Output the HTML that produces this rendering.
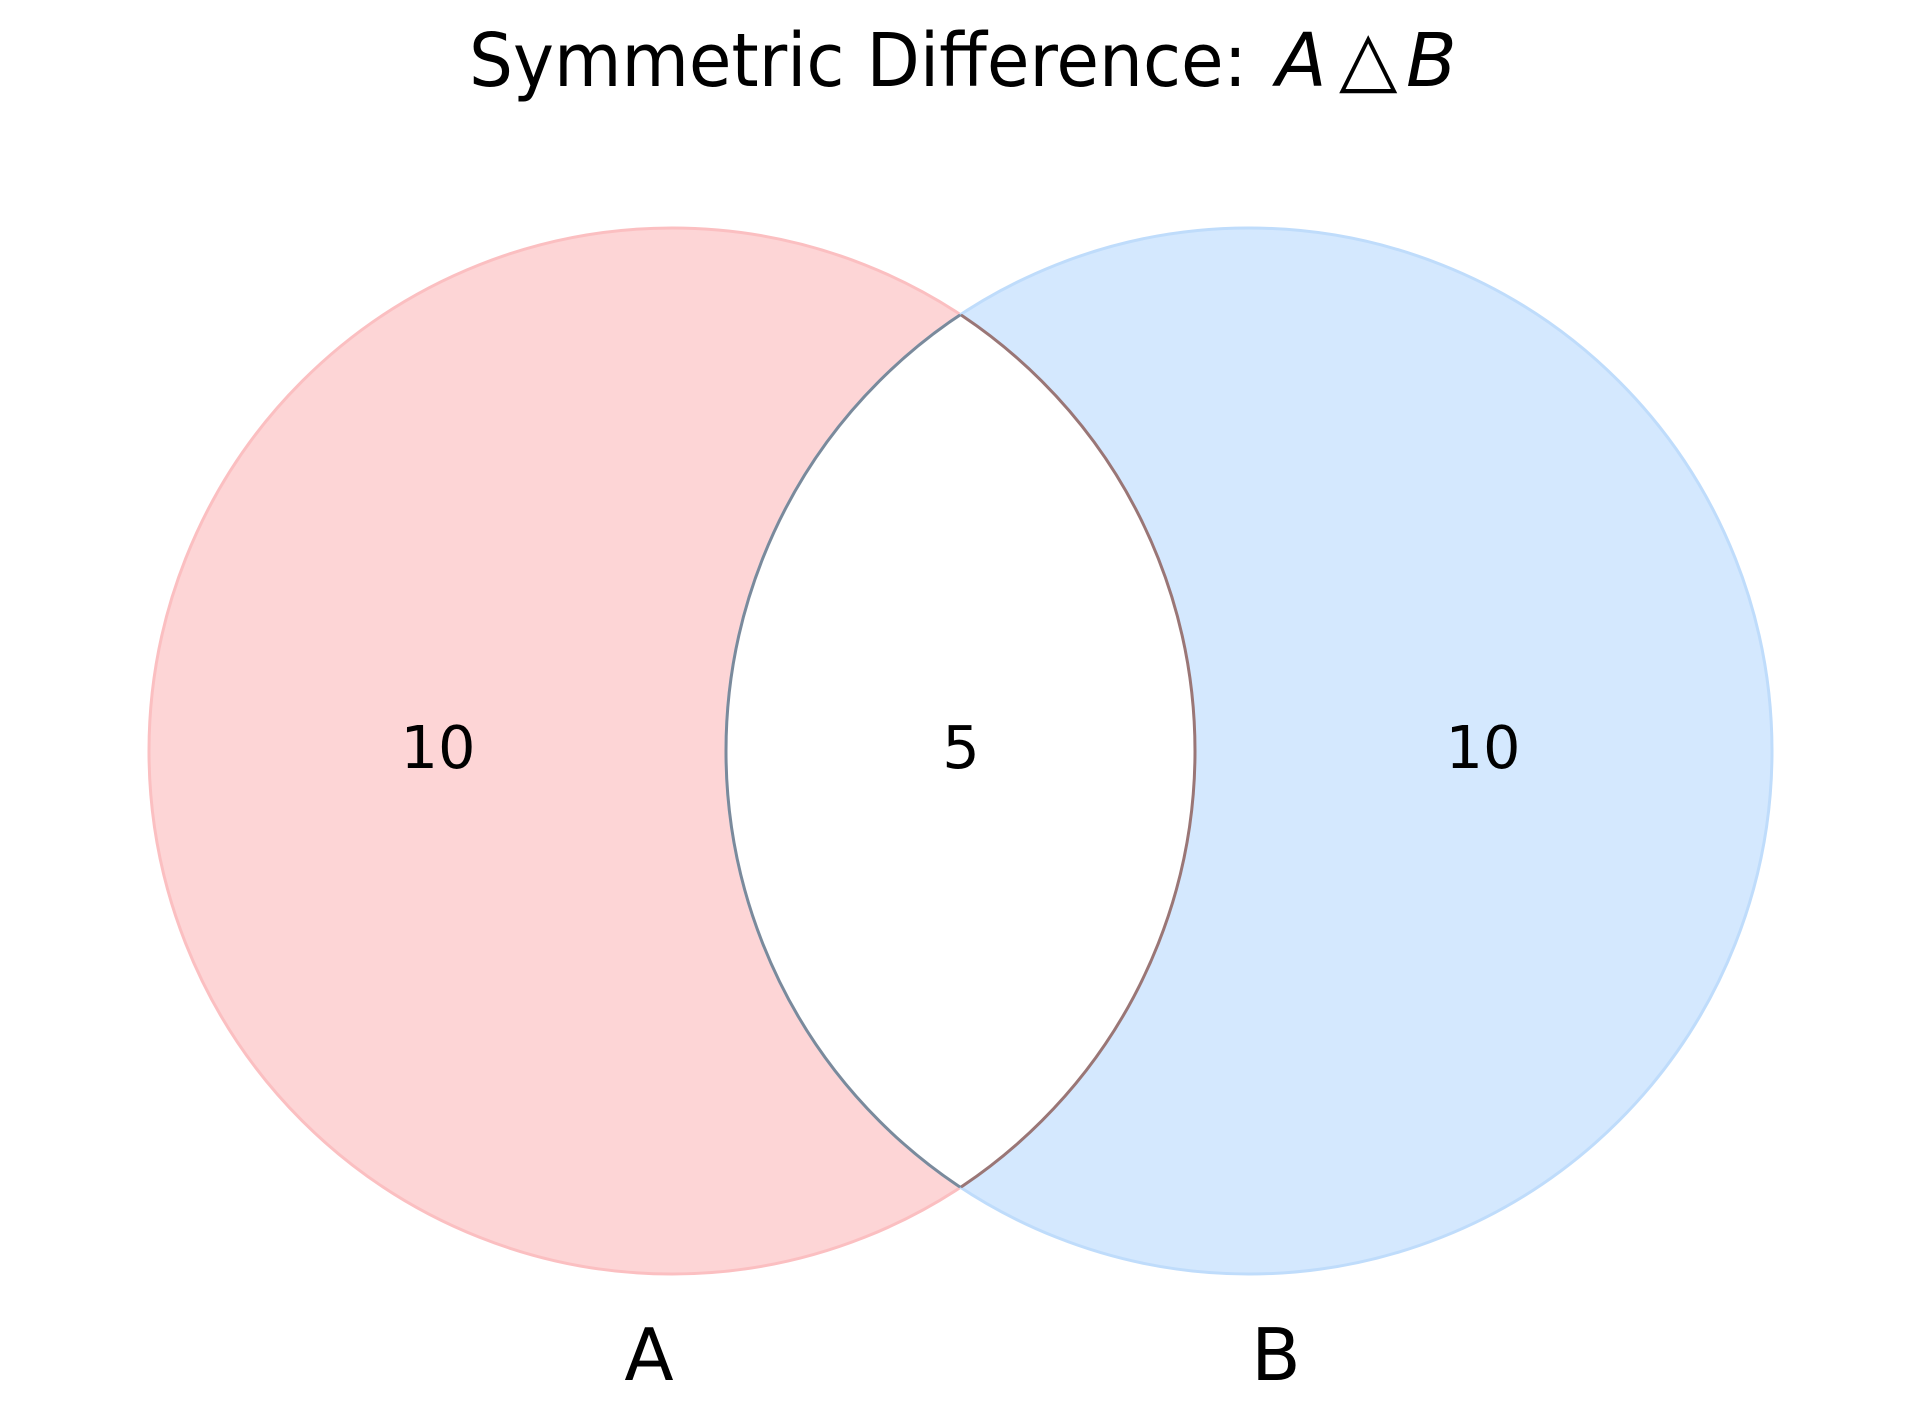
<!DOCTYPE html>
<html><head><meta charset="utf-8"><style>
html,body{margin:0;padding:0;background:#fff;}
svg{display:block;}
text{font-family:"DejaVu Sans","Liberation Sans",sans-serif;fill:#000;}
</style></head><body>
<svg width="1919" height="1422" viewBox="0 0 1919 1422" xmlns="http://www.w3.org/2000/svg">
<defs>
<clipPath id="ca"><circle cx="672" cy="751" r="523"/></clipPath>
<clipPath id="cb"><circle cx="1249" cy="751" r="523"/></clipPath>
</defs>
<circle cx="672" cy="751" r="523" fill="#fdd5d6" stroke="#fbbfc1" stroke-width="3"/>
<circle cx="1249" cy="751" r="523" fill="#d4e8fe" stroke="#bfdcfb" stroke-width="3"/>
<circle cx="1249" cy="751" r="523" fill="#fff" clip-path="url(#ca)"/>
<circle cx="672" cy="751" r="523" fill="none" stroke="#9a7676" stroke-width="3" clip-path="url(#cb)"/>
<circle cx="1249" cy="751" r="523" fill="none" stroke="#7a8a9c" stroke-width="3" clip-path="url(#ca)"/>
<text x="469" y="86" font-size="74" textLength="778" lengthAdjust="spacingAndGlyphs">Symmetric Difference:</text>
<text x="1276" y="86" font-size="74" font-style="italic">A</text>
<text x="1339" y="84" font-size="76">△</text>
<text x="1406" y="86" font-size="74" font-style="italic">B</text>
<text x="438" y="768" font-size="59" text-anchor="middle">10</text>
<text x="961" y="768" font-size="59" text-anchor="middle">5</text>
<text x="1483" y="768" font-size="59" text-anchor="middle">10</text>
<text x="649" y="1380" font-size="72" text-anchor="middle">A</text>
<text x="1276" y="1380" font-size="72" text-anchor="middle">B</text>
</svg>
</body></html>
